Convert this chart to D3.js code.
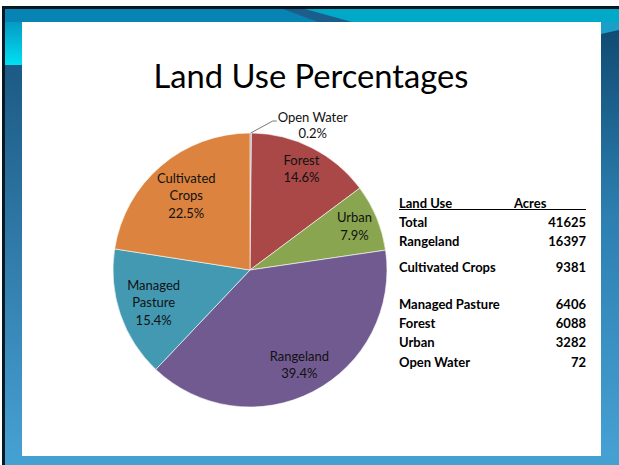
<!DOCTYPE html>
<html lang="en">
<head>
  <meta charset="UTF-8">
  <title>Land Use Percentages</title>
  <style>
    body { margin: 0; background: #fff; }
    svg { display: block; font-family: Lato, "Open Sans", sans-serif; }
  </style>
</head>
<body>
  <svg></svg>
  <script src="https://d3js.org/d3.v7.min.js"></script>
  <script>
    // pie data (Excel order, clockwise from 12 o'clock)
    var categories = ["Open Water", "Forest", "Urban", "Rangeland", "Managed Pasture", "Cultivated Crops"];
    var acres = [72, 6088, 3282, 16397, 6406, 9381];
    var percents = ["0.2%", "14.6%", "7.9%", "39.4%", "15.4%", "22.5%"];
    var labelLines = [["Open Water"], ["Forest"], ["Urban"], ["Rangeland"], ["Managed", "Pasture"], ["Cultivated", "Crops"]];
    var colors = ["#7888b4", "#a94846", "#89a54f", "#715a90", "#4399b1", "#dc843f"];

    // side table
    var tableHeader = ["Land Use", "Acres"];
    var tableNames = ["Total", "Rangeland", "Cultivated Crops", "Managed Pasture", "Forest", "Urban", "Open Water"];
    var tableValues = [41625, 16397, 9381, 6406, 6088, 3282, 72];
    var tableGaps = [0, 0, 7, 17, 0, 0, 0];

    var width = 619;
    var height = 465;

    var svg = d3.select("svg")
        .attr("width", width)
        .attr("height", height);

    // --- slide frame ---
    var defs = svg.append("defs");
    var gl = defs.append("linearGradient").attr("id", "leftGrad")
        .attr("x1", 0).attr("y1", 0).attr("x2", 0).attr("y2", 1);
    gl.append("stop").attr("offset", 0).attr("stop-color", "#17507a");
    gl.append("stop").attr("offset", 1).attr("stop-color", "#47a1d4");
    var gc = defs.append("linearGradient").attr("id", "cyanGrad")
        .attr("x1", 0).attr("y1", 0).attr("x2", 0).attr("y2", 1);
    gc.append("stop").attr("offset", 0).attr("stop-color", "#0784b4");
    gc.append("stop").attr("offset", 1).attr("stop-color", "#00e0f4");
    var gr = defs.append("linearGradient").attr("id", "rightGrad")
        .attr("x1", 0).attr("y1", 0).attr("x2", 0).attr("y2", 1);
    gr.append("stop").attr("offset", 0).attr("stop-color", "#0d456c");
    gr.append("stop").attr("offset", 0.45).attr("stop-color", "#2c7fb0");
    gr.append("stop").attr("offset", 1).attr("stop-color", "#47a1d4");

    var frame = svg.append("g");
    frame.append("rect").attr("x", 2).attr("y", 6).attr("width", width - 2).attr("height", height - 6).attr("fill", "#061820");
    frame.append("rect").attr("x", 5).attr("y", 9).attr("width", width - 5).attr("height", height - 9).attr("fill", "url(#leftGrad)");
    frame.append("rect").attr("x", 5).attr("y", 9).attr("width", 17).attr("height", 56).attr("fill", "url(#cyanGrad)");
    frame.append("rect").attr("x", 601).attr("y", 9).attr("width", 18).attr("height", height - 9).attr("fill", "url(#rightGrad)");
    frame.append("rect").attr("x", 5).attr("y", 9).attr("width", width - 5).attr("height", 13).attr("fill", "#0784b4");
    frame.append("polygon").attr("points", "300,9 619,9 619,22 350,22").attr("fill", "#00a9c8");
    frame.append("polygon").attr("points", "283,9 305,9 352,22 318,22").attr("fill", "#1b5e8c");
    frame.append("polygon").attr("points", "601,22 619,22 619,30 601,34").attr("fill", "#1aa0c8");
    frame.append("rect").attr("x", 5).attr("y", 456).attr("width", width - 5).attr("height", 9).attr("fill", "#45a0d2");
    frame.append("rect").attr("x", 22).attr("y", 22).attr("width", 579).attr("height", 434).attr("fill", "#fff");

    // --- title ---
    svg.append("text")
        .attr("x", 311).attr("y", 88)
        .attr("text-anchor", "middle")
        .style("font-size", "32.7px")
        .attr("fill", "#000")
        .text("Land Use Percentages");

    // --- pie ---
    var cx = 250, cy = 270, r = 137;
    var total = d3.sum(acres);
    var pie = d3.pie().sort(null).value(d => d.value);
    var data = categories.map((c, i) => ({ name: c, value: acres[i], pct: percents[i], lines: labelLines[i], color: colors[i] }));
    var arcs = pie(data);

    var arc = d3.arc().innerRadius(0).outerRadius(r);

    var g = svg.append("g").attr("transform", `translate(${cx},${cy})`);

    g.selectAll("path")
      .data(arcs)
      .enter()
      .append("path")
        .attr("d", arc)
        .attr("fill", d => d.data.color)
        .attr("stroke", "#fff")
        .attr("stroke-width", 0.6);

    var lineH = 17.5;
    arcs.forEach(function(d) {
      var small = d.data.value / total < 0.01;
      var lines = d.data.lines.concat([d.data.pct]);
      var a = (d.startAngle + d.endAngle) / 2;
      var ux = Math.sin(a), uy = -Math.cos(a);

      var t = g.append("text")
          .attr("text-anchor", "middle")
          .style("font-size", "13px")
          .attr("fill", "#111");
      var spans = lines.map(function(s) {
        return t.append("tspan").attr("dy", "0.35em").text(s);
      });
      function place(x, y, h) {
        spans.forEach(function(sp, i) {
          sp.attr("x", x).attr("y", y - (lines.length - 1) * h / 2 + i * h);
        });
      }

      if (small) {
        // outside label with leader line
        var ox = r * ux, oy = r * uy;
        var ex = ox + 22, ey = oy - 12;
        g.append("polyline")
          .attr("points", [[ox, oy], [ex, ey], [ex + 4, ey]].map(p => p.join(",")).join(" "))
          .attr("fill", "none")
          .attr("stroke", "#555")
          .attr("stroke-width", 0.8);
        place(ex + 40, ey + 4, 16);
      } else {
        // slide label outward along the bisector until its box touches the rim
        place(0, 0, lineH);
        var bb = t.node().getBBox();
        var hw = bb.width / 2, hh = (lines.length * lineH) / 2 - 3;
        var sx = ux < 0 ? -1 : 1, sy = uy < 0 ? -1 : 1;
        var lo = 0, hi = r;
        for (var k = 0; k < 30; k++) {
          var m = (lo + hi) / 2;
          var fx = m * ux + sx * hw, fy = m * uy + sy * hh;
          if (Math.hypot(fx, fy) < r - 2) lo = m; else hi = m;
        }
        place(lo * ux, lo * uy, lineH);
      }
    });

    // --- table ---
    var tx = 399, tr = 586;
    var table = svg.append("g")
        .style("font-size", "13px")
        .style("font-weight", "bold")
        .attr("fill", "#000");

    table.append("text").attr("x", tx).attr("y", 203).attr("dy", "0.35em").text(tableHeader[0]);
    table.append("text").attr("x", 514).attr("y", 203).attr("dy", "0.35em").text(tableHeader[1]);
    table.append("line")
        .attr("x1", tx).attr("x2", tr)
        .attr("y1", 209.5).attr("y2", 209.5)
        .attr("stroke", "#000").attr("stroke-width", 1);

    var ry = 222;
    tableNames.forEach(function(n, i) {
      ry += tableGaps[i];
      table.append("text").attr("x", tx).attr("y", ry).attr("dy", "0.35em").text(n);
      table.append("text").attr("x", tr).attr("y", ry).attr("dy", "0.35em")
          .attr("text-anchor", "end").text(tableValues[i]);
      ry += 19.35;
    });
  </script>
</body>
</html>
